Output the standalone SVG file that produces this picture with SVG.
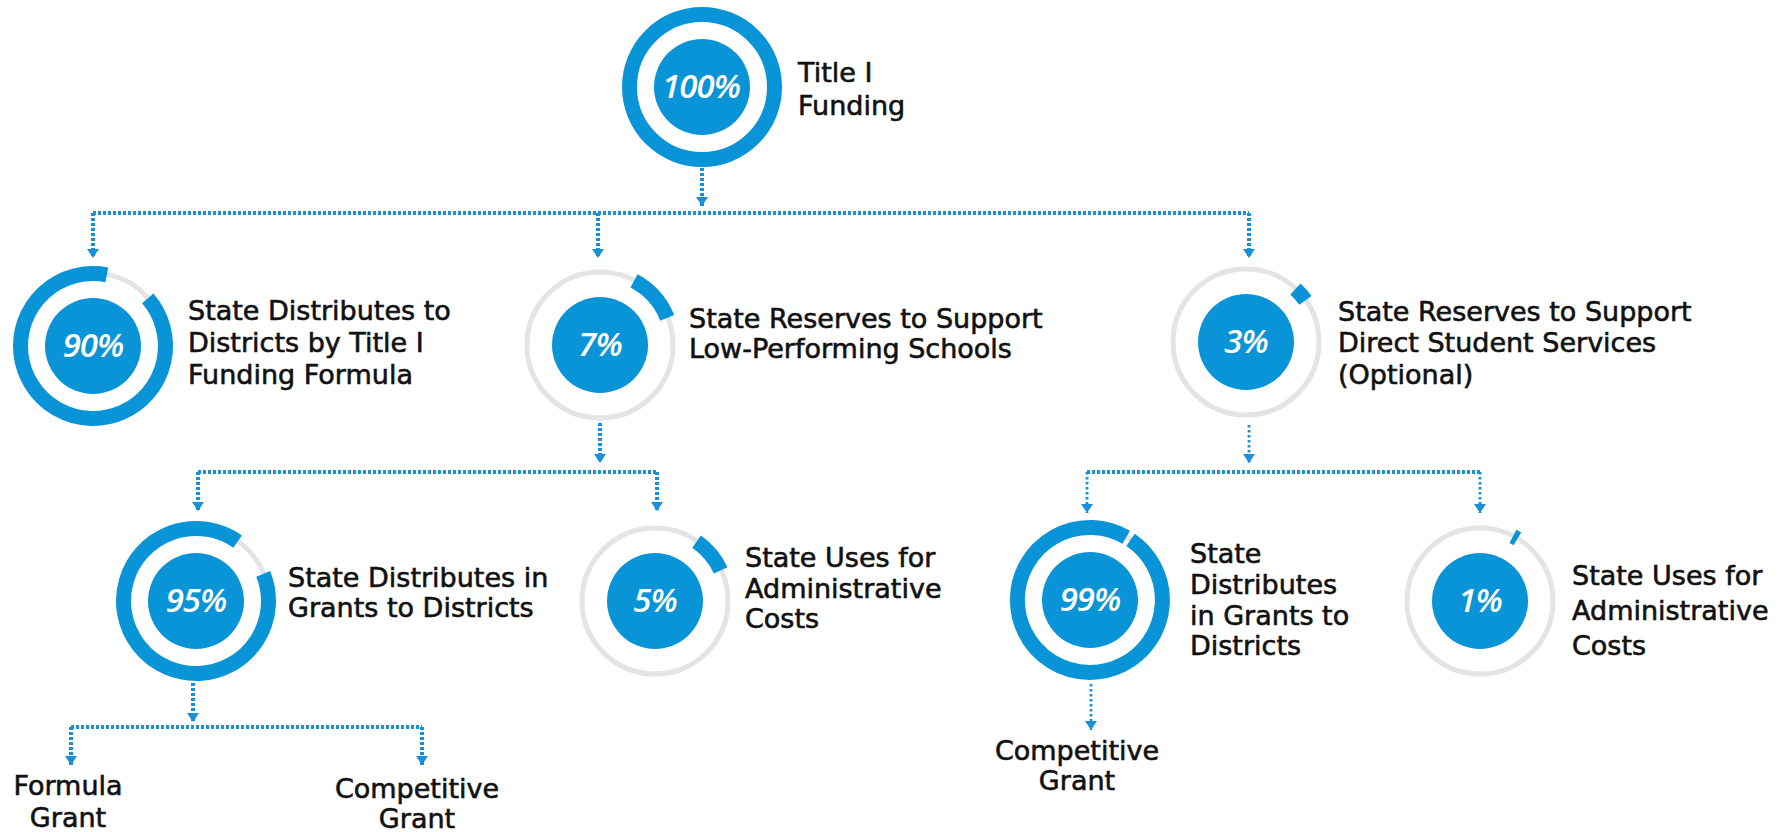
<svg xmlns="http://www.w3.org/2000/svg" width="1791" height="832" viewBox="0 0 1791 832">
<style>
.bg{fill:#ffffff}
.disc{fill:#0894d6}
.ring{fill:none;stroke:#0894d6;stroke-width:15;stroke-linecap:butt}
.track{fill:none;stroke:#e3e4e5;stroke-width:5}
.pct{font-family:"Open Sans","DejaVu Sans",sans-serif;font-style:italic;font-weight:600;font-size:33px;letter-spacing:-1px;fill:#ffffff;text-anchor:middle}
.lbl{font-family:"DejaVu Sans","Liberation Sans",sans-serif;font-size:27px;fill:#111111;stroke:#111111;stroke-width:0.6px}
.mid{text-anchor:middle}
.con{fill:none;stroke:#1a90d6;stroke-width:4;stroke-dasharray:3 2}
.thin{fill:none;stroke:#1a90d6;stroke-width:2.8;stroke-dasharray:2.5 2.5}
</style>
<defs>
<marker id="arr" viewBox="0 0 9 12" refX="9" refY="6" markerWidth="9" markerHeight="12" markerUnits="userSpaceOnUse" orient="auto">
<path d="M0,0 L9,6 L0,12 z" fill="#1a90d6"/>
</marker>
</defs>
<rect class="bg" x="0" y="0" width="1791" height="832"/>

<g id="connectors">
<path class="con" d="M702 168 V206" marker-end="url(#arr)"/>
<path class="con" d="M93 213 H1249"/>
<path class="con" d="M93 213 V258" marker-end="url(#arr)"/>
<path class="con" d="M598 213 V258" marker-end="url(#arr)"/>
<path class="con" d="M1249 213 V258" marker-end="url(#arr)"/>
<path class="con" d="M600 423 V463" marker-end="url(#arr)"/>
<path class="con" d="M198 472 H657"/>
<path class="con" d="M198 472 V511" marker-end="url(#arr)"/>
<path class="con" d="M657 472 V511" marker-end="url(#arr)"/>
<path class="thin" d="M1249 425 V463" marker-end="url(#arr)"/>
<path class="con" d="M1087 472 H1480"/>
<path class="thin" d="M1087 472 V513" marker-end="url(#arr)"/>
<path class="thin" d="M1480 472 V513" marker-end="url(#arr)"/>
<path class="con" d="M193 683 V722" marker-end="url(#arr)"/>
<path class="con" d="M71 727 H422"/>
<path class="con" d="M71 727 V765" marker-end="url(#arr)"/>
<path class="con" d="M422 727 V765" marker-end="url(#arr)"/>
<path class="thin" d="M1091 684 V730" marker-end="url(#arr)"/>
</g>

<g id="node-100">
<circle class="ring" cx="702" cy="87" r="72.5"/>
<circle class="disc" cx="702" cy="87" r="48"/>
<text class="pct" x="701" y="98">100%</text>
<text class="lbl" x="798" y="82">Title I</text>
<text class="lbl" x="798" y="115">Funding</text>
</g>

<g id="node-90">
<path class="track" d="M106.93 274.34 A73 73 0 0 1 148.09 298.10"/>
<path class="ring" d="M147.72 298.43 A72.5 72.5 0 1 1 106.83 274.83"/>
<circle class="disc" cx="93" cy="346" r="48"/>
<text class="pct" x="93" y="357">90%</text>
<text class="lbl" x="188" y="320">State Distributes to</text>
<text class="lbl" x="188" y="352">Districts by Title I</text>
<text class="lbl" x="188" y="384">Funding Formula</text>
</g>

<g id="node-7">
<circle class="track" cx="600" cy="345" r="73"/>
<path class="ring" d="M634.04 280.99 A72.5 72.5 0 0 1 667.22 317.84"/>
<circle class="disc" cx="600" cy="345" r="48"/>
<text class="pct" x="600" y="356">7%</text>
<text class="lbl" x="689" y="328">State Reserves to Support</text>
<text class="lbl" x="689" y="358">Low-Performing Schools</text>
</g>

<g id="node-3">
<circle class="track" cx="1246" cy="342" r="73"/>
<path class="ring" d="M1295.44 288.97 A72.5 72.5 0 0 1 1305.39 300.42"/>
<circle class="disc" cx="1246" cy="342" r="48"/>
<text class="pct" x="1246" y="353">3%</text>
<text class="lbl" x="1338" y="321">State Reserves to Support</text>
<text class="lbl" x="1338" y="352">Direct Student Services</text>
<text class="lbl" x="1338" y="384">(Optional)</text>
</g>

<g id="node-95">
<path class="track" d="M237.87 541.20 A73 73 0 0 1 263.69 573.65"/>
<path class="ring" d="M263.22 573.84 A72.5 72.5 0 1 1 237.58 541.61"/>
<circle class="disc" cx="196" cy="601" r="48"/>
<text class="pct" x="196" y="612">95%</text>
<text class="lbl" x="288" y="587">State Distributes in</text>
<text class="lbl" x="288" y="617">Grants to Districts</text>
</g>

<g id="node-5">
<circle class="track" cx="655" cy="601" r="73"/>
<path class="ring" d="M696.58 541.61 A72.5 72.5 0 0 1 720.71 570.36"/>
<circle class="disc" cx="655" cy="601" r="48"/>
<text class="pct" x="655" y="612">5%</text>
<text class="lbl" x="745" y="567">State Uses for</text>
<text class="lbl" x="745" y="598">Administrative</text>
<text class="lbl" x="745" y="628">Costs</text>
</g>

<g id="node-99">
<path class="track" d="M1126.5 536.78 A73 73 0 0 1 1130.82 539.48"/>
<path class="ring" d="M1130.54 539.90 A72.5 72.5 0 1 1 1126.25 537.21"/>
<circle class="disc" cx="1090" cy="600" r="48"/>
<text class="pct" x="1090" y="611">99%</text>
<text class="lbl" x="1190" y="563">State</text>
<text class="lbl" x="1190" y="594">Distributes</text>
<text class="lbl" x="1190" y="625">in Grants to</text>
<text class="lbl" x="1190" y="655">Districts</text>
</g>

<g id="node-1">
<circle class="track" cx="1480" cy="601" r="73"/>
<path class="ring" d="M1512.91 536.40 A72.5 72.5 0 0 1 1517.34 538.85"/>
<circle class="disc" cx="1480" cy="601" r="48"/>
<text class="pct" x="1480" y="612">1%</text>
<text class="lbl" x="1572" y="585">State Uses for</text>
<text class="lbl" x="1572" y="620">Administrative</text>
<text class="lbl" x="1572" y="655">Costs</text>
</g>

<g id="leaf-formula">
<text class="lbl mid" x="68" y="795">Formula</text>
<text class="lbl mid" x="68" y="827">Grant</text>
</g>
<g id="leaf-competitive-1">
<text class="lbl mid" x="417" y="798">Competitive</text>
<text class="lbl mid" x="417" y="828">Grant</text>
</g>
<g id="leaf-competitive-2">
<text class="lbl mid" x="1077" y="760">Competitive</text>
<text class="lbl mid" x="1077" y="790">Grant</text>
</g>
</svg>
